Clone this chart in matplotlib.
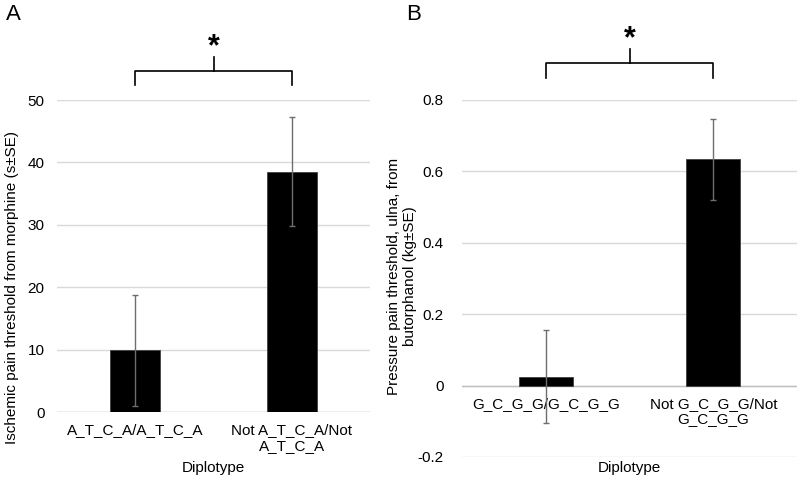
import matplotlib
matplotlib.use("Agg")
import matplotlib.pyplot as plt

plt.rcParams['font.family'] = ['Liberation Sans', 'DejaVu Sans']

# panel A : ischemic pain, morphine
cats_a = ['A_T_C_A/A_T_C_A', 'Not A_T_C_A/Not\nA_T_C_A']
vals_a = [9.9, 38.5]
err_a = [8.9, 8.7]
yticks_a = [0, 10, 20, 30, 40, 50]

# panel B : pressure pain, butorphanol
cats_b = ['G_C_G_G/G_C_G_G', 'Not G_C_G_G/Not\nG_C_G_G']
vals_b = [0.025, 0.634]
err_b = [0.130, 0.114]
yticks_b = [-0.2, 0, 0.2, 0.4, 0.6, 0.8]
yticklabels_b = ['-0.2', '0', '0.2', '0.4', '0.6', '0.8']

W, H = 800, 480
fig = plt.figure(figsize=(8, 4.8), dpi=100)


def box(x0, y0, x1, y1):
    # pixel box -> figure fraction
    return [x0 / W, 1 - y1 / H, (x1 - x0) / W, (y1 - y0) / H]


def panel(ax, cats, vals, err, yticks, ylim, ypad):
    x = range(len(cats))
    ax.bar(x, vals, width=0.32, color='black', edgecolor='#404040', linewidth=0.6, zorder=3)
    ax.errorbar(x, vals, yerr=err, fmt='none', ecolor='#6e6e6e', elinewidth=1,
                capsize=2.5, capthick=1, zorder=4)
    ax.set_xlim(-0.5, len(cats) - 0.5)
    ax.set_ylim(*ylim)
    ax.set_yticks(yticks)
    for s in ax.spines.values():
        s.set_visible(False)
    ax.grid(axis='y', color='#d9d9d9', linewidth=1, zorder=0)
    ax.axhline(0, color='#bfbfbf', linewidth=1, zorder=2)
    ax.tick_params(axis='y', length=0, pad=ypad, labelsize=11)
    ax.set_xticks([])
    for i, c in enumerate(cats):
        ax.annotate(c, xy=(i, 0), xytext=(0, -8), textcoords='offset points',
                    ha='center', va='top', fontsize=11, linespacing=1.15,
                    annotation_clip=False)


def bracket(ax, y_side, y_top, y_tick):
    tr = ax.get_xaxis_transform()
    ax.plot([0, 0, 1, 1], [y_side, y_top, y_top, y_side], color='black', lw=1.2,
            transform=tr, clip_on=False)
    ax.plot([0.5, 0.5], [y_top, y_tick], color='black', lw=1.2, transform=tr, clip_on=False)
    ax.text(0.5, y_tick + 0.005, '*', transform=tr, ha='center', va='baseline',
            fontsize=22, fontweight='bold')


ax_a = fig.add_axes(box(57, 100, 370, 412))
panel(ax_a, cats_a, vals_a, err_a, yticks_a, (0, 50), 9)
bracket(ax_a, 1.047, 1.094, 1.139)

ax_b = fig.add_axes(box(462, 100, 797, 457))
panel(ax_b, cats_b, vals_b, err_b, yticks_b, (-0.2, 0.8), 13)
ax_b.set_yticklabels(yticklabels_b)
bracket(ax_b, 1.062, 1.103, 1.142)

fig.text(12 / W, 1 - 288 / H, 'Ischemic pain threshold from morphine (s±SE)',
         rotation=90, ha='center', va='center', fontsize=11)
fig.text(402 / W, 1 - 276 / H, 'Pressure pain threshold, ulna, from\nbutorphanol (kg±SE)',
         rotation=90, ha='center', va='center', fontsize=11, linespacing=1.2)

fig.text(213 / W, 1 - 468 / H, 'Diplotype', ha='center', va='center', fontsize=11)
fig.text(629 / W, 1 - 468 / H, 'Diplotype', ha='center', va='center', fontsize=11)

fig.text(6 / W, 1 - 14 / H, 'A', ha='left', va='center', fontsize=16)
fig.text(406 / W, 1 - 14 / H, 'B', ha='left', va='center', fontsize=16)

fig.savefig('out.png', dpi=100)
plt.close()
